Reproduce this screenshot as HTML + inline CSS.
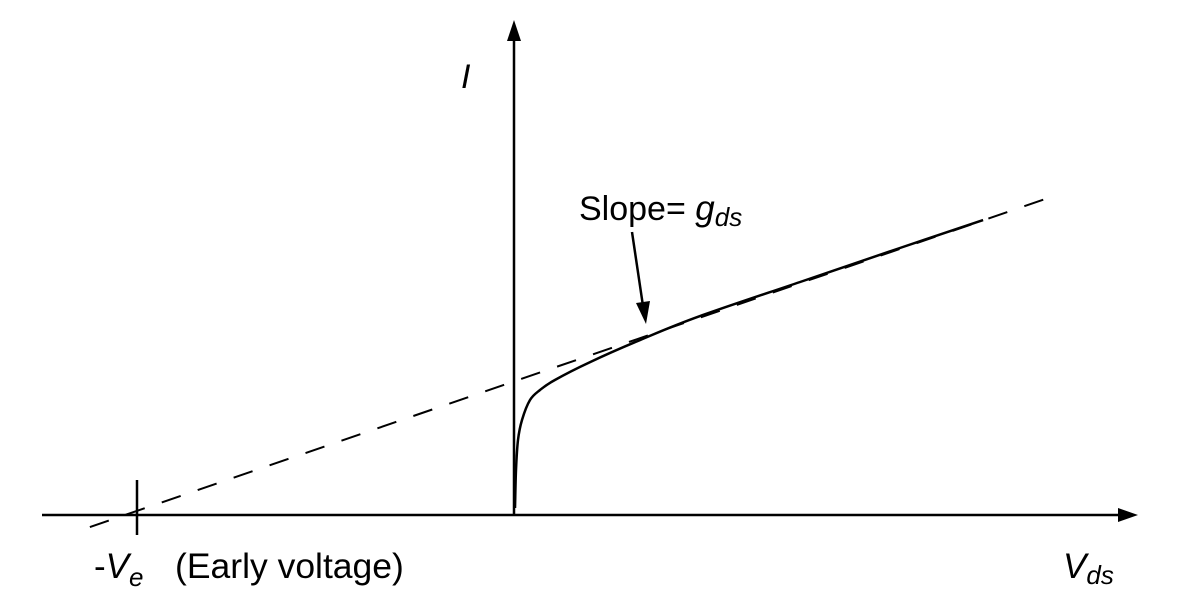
<!DOCTYPE html>
<html><head><meta charset="utf-8"><style>
html,body{margin:0;padding:0;background:#fff;}
svg text{font-family:"Liberation Sans",sans-serif;fill:#000;}
</style></head><body>
<svg id="chart" width="1184" height="603" viewBox="0 0 1184 603">
<g id="axes">
<line x1="42" y1="515" x2="1125" y2="515" stroke="#000" stroke-width="2.5"/>
<polygon points="1138,515 1118,508 1118,522" fill="#000"/>
<line x1="514" y1="516" x2="514" y2="35" stroke="#000" stroke-width="2.5"/>
<polygon points="514,20 507,41 521,41" fill="#000"/>
<line x1="137" y1="480" x2="137" y2="535" stroke="#000" stroke-width="2.5"/>
</g>
<g id="marks"></g>
<line x1="632" y1="232" x2="643" y2="306" stroke="#000" stroke-width="2.5"/>
<polygon points="646,324 636,303 650,301" fill="#000"/>
<text x="461" y="88" font-size="34" font-style="italic">I</text>
<text x="579" y="220" font-size="34">Slope= <tspan font-style="italic" font-size="35">g</tspan><tspan font-style="italic" font-size="26" dy="6">ds</tspan></text>
<text x="94" y="578" font-size="35">-<tspan font-style="italic">V</tspan><tspan font-style="italic" font-size="26" dy="8">e</tspan></text>
<text x="175" y="578" font-size="35.5">(Early voltage)</text>
<text x="1063" y="578" font-size="35" font-style="italic">V<tspan font-size="26" dy="6">ds</tspan></text>
</svg>
<script>
const tangentV = [-1.131, 1.424];
const tangentI = [-0.085, 2.232];
const curveV = [0.0027, 0.0053, 0.0107, 0.0213, 0.0427, 0.0693, 0.109, 0.203, 0.336, 0.496, 0.763, 1.029, 1.251];
const curveI = [0.049, 0.317, 0.528, 0.669, 0.810, 0.880, 0.951, 1.077, 1.232, 1.401, 1.641, 1.880, 2.077];
function xs(v){ return 514 + v * 375; }
function ys(i){ return 515 - i * 142; }
const marks = document.getElementById('marks');
const ns = 'http://www.w3.org/2000/svg';
const tl = document.createElementNS(ns,'line');
tl.setAttribute('x1', xs(tangentV[0])); tl.setAttribute('y1', ys(tangentI[0]));
tl.setAttribute('x2', xs(tangentV[1])); tl.setAttribute('y2', ys(tangentI[1]));
tl.setAttribute('stroke','#000'); tl.setAttribute('stroke-width','2');
tl.setAttribute('stroke-dasharray','20 18');


marks.appendChild(tl);
const P = curveV.map((v,k)=>[xs(v), ys(curveI[k])]);
let d = 'M' + P[0][0].toFixed(1) + ',' + P[0][1].toFixed(1);
for (let k=0;k<P.length-1;k++){
  const p0=P[Math.max(k-1,0)], p1=P[k], p2=P[k+1], p3=P[Math.min(k+2,P.length-1)];
  const c1=[p1[0]+(p2[0]-p0[0])/6, p1[1]+(p2[1]-p0[1])/6];
  const c2=[p2[0]-(p3[0]-p1[0])/6, p2[1]-(p3[1]-p1[1])/6];
  d += ' C'+c1[0].toFixed(1)+','+c1[1].toFixed(1)+' '+c2[0].toFixed(1)+','+c2[1].toFixed(1)+' '+p2[0].toFixed(1)+','+p2[1].toFixed(1);
}
const cp = document.createElementNS(ns,'path');
cp.setAttribute('d', d); cp.setAttribute('fill','none'); cp.setAttribute('stroke','#000');
cp.setAttribute('stroke-width','2.5'); cp.setAttribute('stroke-linejoin','round');


marks.appendChild(cp);
</script>
</body></html>
